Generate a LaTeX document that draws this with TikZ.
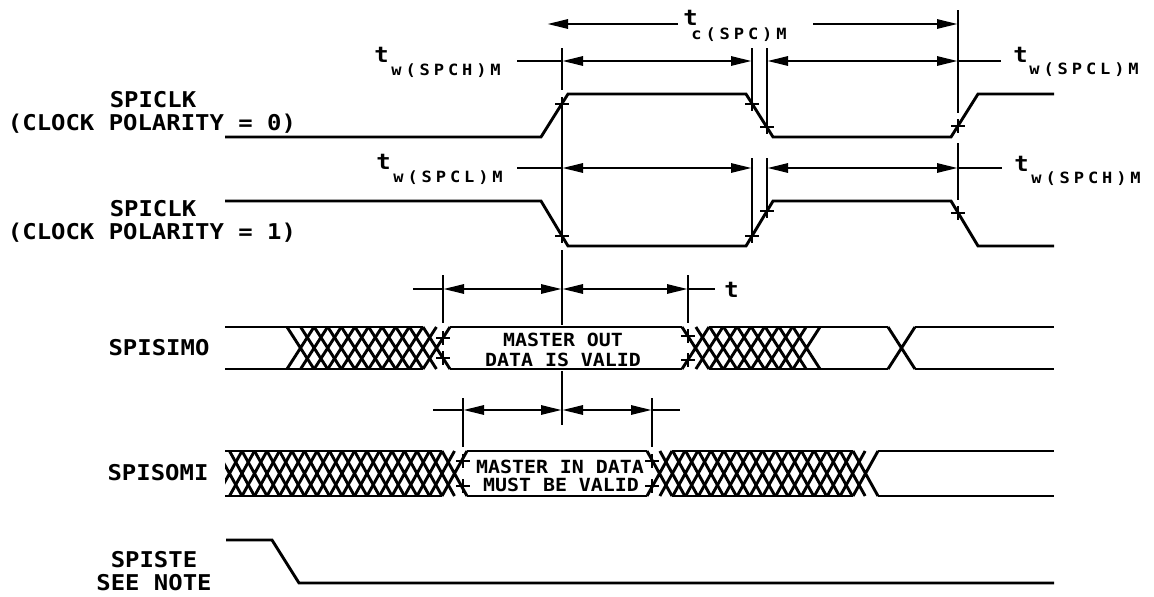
\documentclass[tikz,border=0pt]{standalone}
\usepackage{fontspec}
\newfontfamily\plotfont[FakeStretch=1.1]{DejaVu Sans Mono Bold}
\newfontfamily\plotsub[FakeStretch=1.1,LetterSpace=25]{DejaVu Sans Mono Bold}
\usetikzlibrary{arrows.meta}
\newcommand\hatchrow[6]{% x0, step, n, width, ytop, ybot
  \foreach \k in {0,...,#3}{%
    \draw ({#1+\k*(#2)},#5) -- ({#1+\k*(#2)+#4},#6) ({#1+\k*(#2)},#6) -- ({#1+\k*(#2)+#4},#5);}}
\begin{document}
\begin{tikzpicture}[x=1pt,y=-1pt,line width=2.9pt,
  lbl/.style={font=\plotfont\fontsize{21.75}{24}\selectfont,inner sep=0pt,text height=15.8pt,text depth=0pt},
  boxt/.style={font=\plotfont\fontsize{18.1}{20}\selectfont,inner sep=0pt,text height=13.2pt,text depth=0pt},
  subt/.style={font=\plotsub\fontsize{15.5}{17}\selectfont,inner sep=0pt,text height=11.3pt,text depth=0pt,anchor=west},
  tt/.style={lbl,anchor=west,text height=14pt},
  dimarr/.style={{Triangle[length=21pt,width=9pt]}-{Triangle[length=21pt,width=9pt]}},
  onearr/.style={-{Triangle[length=21pt,width=9pt]}},
  plus/.pic={\draw[line width=2.5pt] (-7,0)--(7,0) (0,-7)--(0,7);}]
\fill[white] (0,0) rectangle (1154,597);
\useasboundingbox (0,0) rectangle (1154,597);

% ---- labels
\node[lbl] (clkA1) at (153,100) {SPICLK};
\node[lbl] (clkA2) at (152,123) {(CLOCK POLARITY = 0)};
\node[lbl] (clkB1) at (153,209) {SPICLK};
\node[lbl] (clkB2) at (152,232) {(CLOCK POLARITY = 1)};
\node[lbl] (simo) at (159,348) {SPISIMO};
\node[lbl] (somi) at (158,473) {SPISOMI};
\node[lbl] (ste1) at (154,560) {SPISTE};
\node[lbl] (ste2) at (154,583) {SEE NOTE};

% ---- clocks
\draw (225,137) -- (541,137) -- (568,94) -- (746,94) -- (773,137) -- (951,137) -- (978,94) -- (1054,94);
\draw (225,201) -- (541,201) -- (568,246) -- (746,246) -- (773,201) -- (951,201) -- (978,246) -- (1054,246);

% ---- extension lines
\draw (562,48) -- (562,90) (562,98) -- (562,242) (562,250) -- (562,325) (562,371) -- (562,425);
\draw (752,48) -- (752,104) (752,158) -- (752,236);
\draw (767,48) -- (767,127) (767,158) -- (767,211);
\draw (958,10) -- (958,113) (958,143) -- (958,200);
\draw (443,275) -- (443,323) (688,275) -- (688,323);
\draw (463,398) -- (463,447) (652,398) -- (652,447);

% ---- ticks
\foreach \p in {(562,104),(752,104),(767,127),(958,126),(562,236),(752,236),(767,211),(958,213),
  (443,338),(443,358),(688,336),(688,360),(463,461),(463,486),(652,461),(652,486)}
  \pic at \p {plus};

% ---- dimension lines
\draw[onearr] (678,24) -- (547,24);
\draw[onearr] (813,24) -- (958,24);
\draw (517,61) -- (562,61);
\draw[dimarr] (562,61) -- (752,61);
\draw[dimarr] (767,61) -- (958,61);
\draw (958,61) -- (1001,61);
\draw (517,168) -- (562,168);
\draw[dimarr] (562,168) -- (752,168);
\draw[dimarr] (767,168) -- (958,168);
\draw (958,168) -- (1002,168);
\draw (413,289) -- (443,289);
\draw[dimarr] (443,289) -- (562,289);
\draw[dimarr] (562,289) -- (688,289);
\draw (688,289) -- (715,289);
\draw (433,410) -- (463,410);
\draw[dimarr] (463,410) -- (562,410);
\draw[dimarr] (562,410) -- (652,410);
\draw (652,410) -- (680,410);

% ---- timing labels
\node[tt] (t1) at (373,55) {t}; \node[subt] (s1) at (390,70) {w(SPCH)M};
\node[tt] (t2) at (682,18) {t}; \node[subt] (s2) at (690,34) {c(SPC)M};
\node[tt] (t3) at (1012,55) {t}; \node[subt] (s3) at (1028,69) {w(SPCL)M};
\node[tt] (t4) at (375,162) {t}; \node[subt] (s4) at (392,177) {w(SPCL)M};
\node[tt] (t5) at (1013,164) {t}; \node[subt] (s5) at (1030,178) {w(SPCH)M};
\node[tt] (t6) at (723,290) {t};

% ---- SPISIMO
\draw (225,327) -- (423,327) (225,369) -- (423,369);
\hatchrow{287}{13.6}{10}{27}{327}{369}
\draw (450,327) -- (682,327) (450,369) -- (682,369);
\hatchrow{682}{13.875}{8}{27}{327}{369}
\draw (709,327) -- (888,327) (709,369) -- (888,369);
\hatchrow{888}{0}{0}{27}{327}{369}
\draw (915,327) -- (1054,327) (915,369) -- (1054,369);
\node[boxt] (mo1) at (563,340) {MASTER OUT};
\node[boxt] (mo2) at (563,360) {DATA IS VALID};

% ---- SPISOMI
\draw (225,451) -- (442,451) (225,496) -- (442,496);
\begin{scope}
  \clip (225,430) rectangle (480,520);
  \hatchrow{442}{-12.5}{18}{25}{451}{496}
\end{scope}
\draw (467,451) -- (647,451) (467,496) -- (647,496);
\hatchrow{647}{12.875}{16}{25}{451}{496}
\draw (672,451) -- (853,451) (672,496) -- (853,496);
\draw (878,451) -- (1054,451) (878,496) -- (1054,496);
\node[boxt] (mi1) at (560,467) {MASTER IN DATA};
\node[boxt] (mi2) at (561,485) {MUST BE VALID};

% ---- SPISTE
\draw (226,540) -- (272,540) -- (299,583) -- (1054,583);
\end{tikzpicture}
\end{document}
